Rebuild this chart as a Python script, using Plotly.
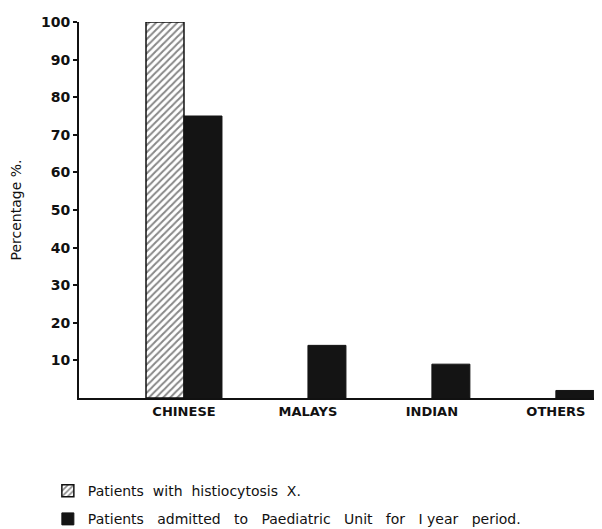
import plotly.graph_objects as go

categories = ["CHINESE", "MALAYS", "INDIAN", "OTHERS"]
histiocytosis = [100, None, None, None]
admitted = [75, 14, 9, 2]
y_ticks = [10, 20, 30, 40, 50, 60, 70, 80, 90, 100]

fig = go.Figure()
fig.add_trace(go.Bar(
    x=categories, y=histiocytosis,
    name="Patients  with  histiocytosis  X.",
    legendgroup="a",
    marker=dict(color="white",
                line=dict(color="#111111", width=1.5),
                pattern=dict(shape="/", fgcolor="#111111", bgcolor="white",
                             size=5, solidity=0.4)),
))
fig.add_trace(go.Bar(
    x=categories, y=admitted,
    name="Patients   admitted   to   Paediatric   Unit   for   I year   period.",
    legendgroup="b",
    marker=dict(color="#141414", line=dict(color="#141414", width=1)),
))

# the page adds an 8px body margin, so the figure is 8px smaller and margins compensate
fig.update_layout(
    width=594, height=521,
    margin=dict(l=71, r=4, t=14, b=131, autoexpand=False),
    paper_bgcolor="white", plot_bgcolor="white",
    barmode="group", bargap=0.387, bargroupgap=0,
    showlegend=True,
    legend=dict(x=-0.06, y=-0.205, xanchor="left", yanchor="top",
                orientation="v", tracegroupgap=7,
                font=dict(family="DejaVu Sans", size=14, color="#111111"),
                bgcolor="rgba(0,0,0,0)"),
    font=dict(family="DejaVu Sans", color="#111111"),
)
fig.update_xaxes(
    range=[-0.847, 3.34], automargin=False,
    showline=True, linecolor="#111111", linewidth=2,
    ticks="", showgrid=False, zeroline=False,
    tickfont=dict(family="DejaVu Sans", size=13, color="#111111", weight="bold"),
)
fig.update_yaxes(
    range=[0, 100], automargin=False,
    tickvals=y_ticks,
    showline=True, linecolor="#111111", linewidth=2,
    ticks="outside", ticklen=4, tickwidth=1.5, tickcolor="#111111",
    showgrid=False, zeroline=False,
    tickfont=dict(family="DejaVu Sans", size=14, color="#111111", weight="bold"),
    title=dict(text="Percentage %.", font=dict(family="DejaVu Sans", size=14, color="#111111"),
               standoff=16),
)

fig.write_html("out.html")
